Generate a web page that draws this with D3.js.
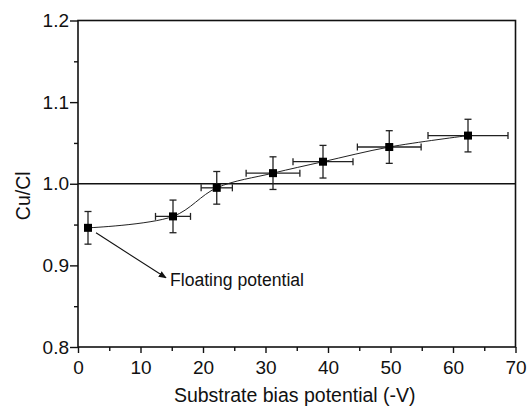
<!DOCTYPE html>
<html>
<head>
<meta charset="utf-8">
<script src="https://cdn.jsdelivr.net/npm/d3@7"></script>
<style>
  body { margin: 0; background: #fff; }
  text { font-family: "Liberation Sans", Arial, sans-serif; fill: #111; }
</style>
</head>
<body>
<div id="chart-area"></div>
<script>
// data
var bias = [1.6, 15.2, 22.2, 31.2, 39.2, 49.8, 62.4]
var ratio = [0.946, 0.960, 0.995, 1.013, 1.027, 1.045, 1.059]
var biasErr = [0, 2.8, 2.5, 4.3, 4.8, 5.1, 6.4]
var ratioErr = [0.02, 0.02, 0.02, 0.02, 0.02, 0.02, 0.02]
var xTicks = [0, 10, 20, 30, 40, 50, 60, 70]
var yTicks = [0.8, 0.9, 1.0, 1.1, 1.2]

var data = bias.map((b, i) => ({x: b, y: ratio[i], ex: biasErr[i], ey: ratioErr[i]}))

var cw = 527
var ch = 407
var m = {l: 78, t: 20.5, r: 11.5, b: 60}
var w = cw - m.l - m.r
var h = ch - m.t - m.b

var svg = d3.select("#chart-area").append("svg")
    .attr("width", cw)
    .attr("height", ch)

svg.append("rect").attr("width", cw).attr("height", ch).attr("fill", "#fff")

var g = svg.append("g").attr("transform", "translate(" + m.l + ", " + m.t + ")")

var x = d3.scaleLinear().domain([0, 70]).range([0, w])
var y = d3.scaleLinear().domain([0.8, 1.2]).range([h, 0])

// minor ticks
var xMinor = d3.axisBottom(x).tickValues(d3.range(5, 70, 10)).tickSize(4).tickFormat("")
var yMinor = d3.axisLeft(y).tickValues([0.85, 0.95, 1.05, 1.15]).tickSize(4).tickFormat("")

var bottomAxis = d3.axisBottom(x).tickValues(xTicks).tickSize(6).tickPadding(3).tickFormat(d3.format("d"))
var leftAxis = d3.axisLeft(y).tickValues(yTicks).tickSize(8).tickPadding(1).tickFormat(d3.format(".1f"))

g.append("g").attr("class", "minor").attr("transform", "translate(0, " + h + ")").call(xMinor)
g.append("g").attr("class", "minor").call(yMinor)

var xAxisGroup = g.append("g")
    .attr("transform", "translate(0, " + h + ")")
    .call(bottomAxis)

var yAxisGroup = g.append("g")
    .call(leftAxis)

g.selectAll(".domain").remove()
g.selectAll(".tick line").attr("stroke", "#111").attr("stroke-width", 1.4)
g.selectAll(".tick text").attr("font-size", "19px").attr("fill", "#111")
    .style("font-family", "'Liberation Sans', Arial, sans-serif")
xAxisGroup.selectAll(".tick text").attr("dy", "0.95em")

// frame
g.append("rect")
    .attr("width", w)
    .attr("height", h)
    .attr("fill", "none")
    .attr("stroke", "#111")
    .attr("stroke-width", 1.6)

// reference line at 1.0
g.append("line")
    .attr("x1", 0)
    .attr("x2", w)
    .attr("y1", y(1.0))
    .attr("y2", y(1.0))
    .attr("stroke", "#111")
    .attr("stroke-width", 1.6)

// spline through points
var line = d3.line()
    .x(d => x(d.x))
    .y(d => y(d.y))
    .curve(d3.curveCatmullRom.alpha(0.5))

g.append("path")
    .datum(data)
    .attr("d", line)
    .attr("fill", "none")
    .attr("stroke", "#222")
    .attr("stroke-width", 1)

// error bars
var cap = 3.5
var eb = g.selectAll(".err").data(data).enter().append("g").attr("class", "err")
    .attr("stroke", "#222").attr("stroke-width", 1.3)

eb.append("line")
    .attr("x1", d => x(d.x)).attr("x2", d => x(d.x))
    .attr("y1", d => y(d.y - d.ey)).attr("y2", d => y(d.y + d.ey))
eb.append("line")
    .attr("x1", d => x(d.x) - cap).attr("x2", d => x(d.x) + cap)
    .attr("y1", d => y(d.y + d.ey)).attr("y2", d => y(d.y + d.ey))
eb.append("line")
    .attr("x1", d => x(d.x) - cap).attr("x2", d => x(d.x) + cap)
    .attr("y1", d => y(d.y - d.ey)).attr("y2", d => y(d.y - d.ey))

var ebx = eb.filter(d => d.ex > 0)
ebx.append("line")
    .attr("x1", d => x(d.x - d.ex)).attr("x2", d => x(d.x + d.ex))
    .attr("y1", d => y(d.y)).attr("y2", d => y(d.y))
ebx.append("line")
    .attr("x1", d => x(d.x - d.ex)).attr("x2", d => x(d.x - d.ex))
    .attr("y1", d => y(d.y) - cap).attr("y2", d => y(d.y) + cap)
ebx.append("line")
    .attr("x1", d => x(d.x + d.ex)).attr("x2", d => x(d.x + d.ex))
    .attr("y1", d => y(d.y) - cap).attr("y2", d => y(d.y) + cap)

// square markers
var ms = 8
g.selectAll(".pt").data(data).enter().append("rect")
    .attr("class", "pt")
    .attr("x", d => x(d.x) - ms / 2)
    .attr("y", d => y(d.y) - ms / 2)
    .attr("width", ms)
    .attr("height", ms)
    .attr("fill", "#000")

// annotation arrow
svg.append("defs").append("marker")
    .attr("id", "arrow")
    .attr("viewBox", "0 0 10 10")
    .attr("refX", 9)
    .attr("refY", 5)
    .attr("markerWidth", 8)
    .attr("markerHeight", 8)
    .attr("markerUnits", "userSpaceOnUse")
    .attr("orient", "auto")
    .append("path")
    .attr("d", "M0,1 L10,5 L0,9 z")
    .attr("fill", "#111")

var p0 = data[0]
g.append("line")
    .attr("x1", x(p0.x) + 8)
    .attr("y1", y(p0.y) + 5)
    .attr("x2", x(p0.x) + 78)
    .attr("y2", y(p0.y) + 50)
    .attr("stroke", "#111")
    .attr("stroke-width", 1.1)
    .attr("marker-end", "url(#arrow)")

g.append("text")
    .attr("x", x(p0.x) + 82)
    .attr("y", y(p0.y) + 58)
    .attr("font-size", "17.6px")
    .text("Floating potential")

// axis labels
g.append("text")
    .attr("x", w / 2 - 2)
    .attr("y", h + 55)
    .attr("font-size", "19.5px")
    .attr("text-anchor", "middle")
    .text("Substrate bias potential (-V)")

g.append("text")
    .attr("transform", "translate(" + (-48) + ", " + (h / 2 + 12) + ") rotate(-90)")
    .attr("font-size", "19.5px")
    .attr("text-anchor", "middle")
    .text("Cu/Cl")
</script>
</body>
</html>
